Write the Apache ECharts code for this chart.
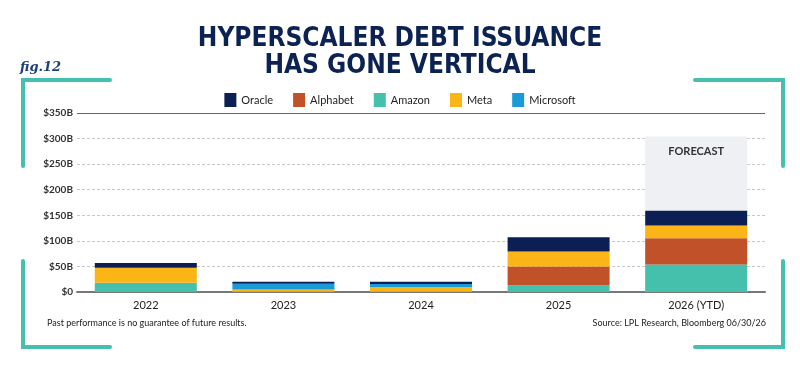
<!DOCTYPE html>
<html>
<head>
<meta charset="utf-8">
<script src="https://cdn.jsdelivr.net/npm/echarts@6/dist/echarts.min.js"></script>
<style>
  html, body { margin: 0; padding: 0; background: #fff; }
  #chart { width: 800px; height: 365px; }
</style>
</head>
<body>
<div id="chart"></div>
<script>
// data ($B)
var years = ["2022", "2023", "2024", "2025", "2026 (YTD)"];
var amazon = [18, 0.5, 0.5, 13, 54];
var alphabet = [0, 0, 0, 37, 51];
var meta = [29.5, 4.5, 9, 29, 25];
var microsoft = [0, 11, 6, 0, 0];
var oracle = [9, 4, 4.5, 28, 29];
var forecast = [null, null, null, null, 304];
var yTicks = [0, 50, 100, 150, 200, 250, 300, 350];

var teal = "#45bfae";
var font = "Lato";

function bar(name, data, color){
  return {
    name: name, type: "bar", stack: "total", data: data, z: 3,
    barWidth: 102, barGap: "-100%",
    itemStyle: { color: color }
  };
}

window.onload = function(){
  var myChart = echarts.init(document.querySelector("#chart"));
  var series = [
    {
      name: "forecast", type: "bar", data: forecast, z: 1,
      barWidth: 102, barGap: "-100%", silent: true,
      itemStyle: { color: "#eef0f3" },
      label: {
        show: true, position: "insideTop", distance: 9,
        formatter: function(){ return "FORECAST"; },
        color: "#333", fontFamily: font, fontWeight: "bold", fontSize: 11
      }
    },
    bar("Amazon", amazon, "#44c0ad"),
    bar("Alphabet", alphabet, "#c05128"),
    bar("Meta", meta, "#fbb516"),
    bar("Microsoft", microsoft, "#1a9ad7"),
    bar("Oracle", oracle, "#0b1f55")
  ];
  // solid line at the top of the scale
  series[5].markLine = {
    silent: true, symbol: "none", label: { show: false },
    lineStyle: { color: "#666", type: "solid", width: 1 },
    data: [{ yAxis: yTicks[yTicks.length - 1] }]
  };

  var frame = { stroke: teal, lineWidth: 4, lineCap: "round" };
  myChart.setOption({
    animation: false,
    textStyle: { fontFamily: font },
    title: {
      text: "HYPERSCALER DEBT ISSUANCE\nHAS GONE VERTICAL",
      left: "center", top: 21,
      textStyle: {
        fontFamily: "DejaVu Sans Condensed, Roboto, sans-serif", fontWeight: "bold",
        fontSize: 26, lineHeight: 27, color: "#0b2253"
      }
    },
    legend: {
      data: ["Oracle", "Alphabet", "Amazon", "Meta", "Microsoft"],
      top: 88, left: "center", itemWidth: 12, itemHeight: 14, itemGap: 20,
      icon: "rect",
      textStyle: { fontFamily: font, fontSize: 11, color: "#222" }
    },
    grid: { left: 77, right: 35, top: 113, bottom: 73 },
    xAxis: {
      type: "category", data: years,
      axisLine: { lineStyle: { color: "#777", width: 2 } },
      axisTick: { show: false },
      axisLabel: { color: "#222", fontSize: 11, margin: 8, fontFamily: font }
    },
    yAxis: {
      type: "value", min: 0, max: 350, interval: 50,
      axisLine: { show: false }, axisTick: { show: false },
      axisLabel: {
        color: "#333", fontSize: 10, margin: 4, fontFamily: font, fontWeight: "bold",
        formatter: function(v){ return v === 0 ? "$0" : "$" + v + "B"; }
      },
      splitLine: { lineStyle: { color: "#c8c8c8", type: [3, 2] } }
    },
    graphic: [
      { type: "text", left: 20, top: 61,
        style: { text: "fig.12", fontFamily: "DejaVu Serif", fontStyle: "italic",
                 fontWeight: "bold", fontSize: 13, fill: "#1d3f7a" } },
      { type: "text", left: 47, top: 319,
        style: { text: "Past performance is no guarantee of future results.",
                 fontFamily: font, fontSize: 9, fill: "#222" } },
      { type: "text", right: 34, top: 319,
        style: { text: "Source: LPL Research, Bloomberg 06/30/26",
                 fontFamily: font, fontSize: 9, fill: "#222" } },
      { type: "polyline", shape: { points: [[110, 80], [23, 80], [23, 166]] }, style: frame },
      { type: "polyline", shape: { points: [[23, 261], [23, 347], [110, 347]] }, style: frame },
      { type: "polyline", shape: { points: [[695, 80], [783, 80], [783, 166]] }, style: frame },
      { type: "polyline", shape: { points: [[783, 261], [783, 347], [695, 347]] }, style: frame }
    ],
    series: series
  });
};
</script>
</body>
</html>
